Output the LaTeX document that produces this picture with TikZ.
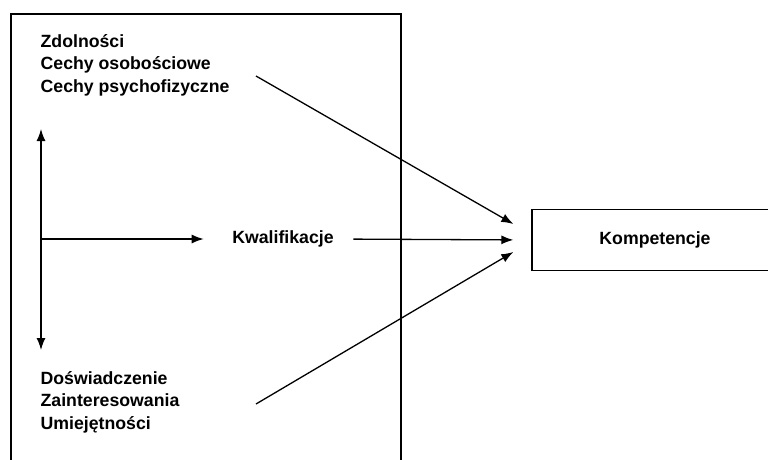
\documentclass[tikz,border=0pt]{standalone}
\usepackage{fontspec}
\setmainfont{Liberation Sans}
\usetikzlibrary{arrows.meta,positioning}
\tikzset{%
txt/.style={inner sep=0pt,align=left,font=\fontsize{17.7}{22.6}\selectfont\bfseries},
kbox/.style={draw,line width=1.3pt,minimum width=246pt,minimum height=61pt,inner sep=0pt,font=\fontsize{17.7}{22.6}\selectfont\bfseries},
}

\begin{document}
\begin{tikzpicture}[x=1pt,y=-1pt,line width=1.3pt,>={Latex[length=12pt,width=9pt]}]
    \useasboundingbox (0,0) rectangle (768,459);
    \clip (0,0) rectangle (768,459);
    % frame on the left
    \draw (11,470) |- (401,14) -- (401,470);
    \node[txt,anchor=west] (cechy) at (40,65) {Zdolności\\Cechy osobościowe\\Cechy psychofizyczne};
    \node[txt,anchor=west] (dosw) at (40,402) {Doświadczenie\\Zainteresowania\\Umiejętności};
    \node[txt] (kwal) at (283,239) {Kwalifikacje};
    \node[kbox] (komp) at (655,240) {Kompetencje};
    \coordinate (up) at (41,129);
    \coordinate (down) at (41,350);
    \coordinate (mid) at (41,239);
    \coordinate (c1) at (256,76);
    \coordinate (c2) at (256,404);
    \draw[<->](up)--(down);
    \draw[->,shorten >=28pt](mid)--(kwal.west);
    \draw[->,shorten <=19pt,shorten >=18pt](kwal.east)--(komp.west);
    \draw[->](c1)--([xshift=-18pt,yshift=16pt]komp.west);
    \draw[->](c2)--([xshift=-18pt,yshift=-12pt]komp.west);
\end{tikzpicture}
\end{document}
